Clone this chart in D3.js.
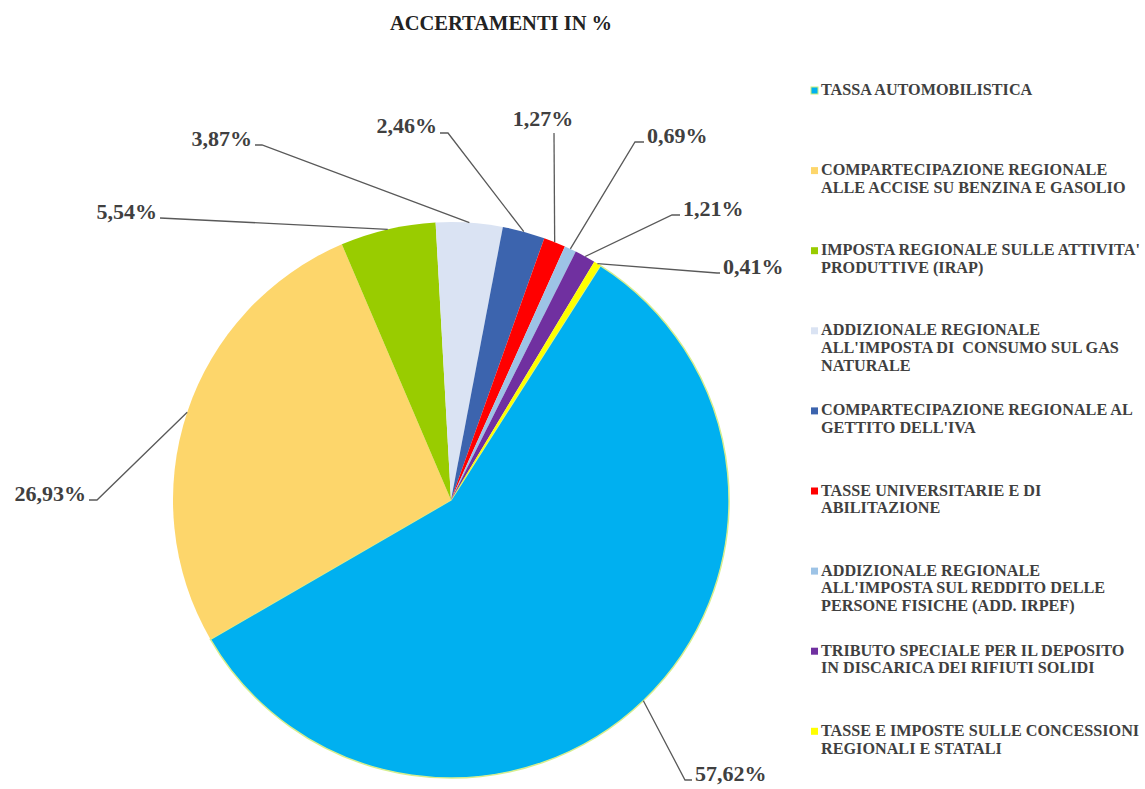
<!DOCTYPE html>
<html>
<head>
<meta charset="utf-8">
<script src="https://cdn.jsdelivr.net/npm/d3@7"></script>
<style>
  body { margin: 0; background: #fff; }
  svg { display: block; }
  text { font-family: "Liberation Serif", "DejaVu Serif", serif; font-weight: bold; fill: #404040; }
</style>
</head>
<body>
<div id="chart"></div>
<script>

// slice names, as wrapped in the legend
var categories = [
    "TASSA AUTOMOBILISTICA",
    "COMPARTECIPAZIONE REGIONALE\nALLE ACCISE SU BENZINA E GASOLIO",
    "IMPOSTA REGIONALE SULLE ATTIVITA'\nPRODUTTIVE (IRAP)",
    "ADDIZIONALE REGIONALE\nALL'IMPOSTA DI  CONSUMO SUL GAS\nNATURALE",
    "COMPARTECIPAZIONE REGIONALE AL\nGETTITO DELL'IVA",
    "TASSE UNIVERSITARIE E DI\nABILITAZIONE",
    "ADDIZIONALE REGIONALE\nALL'IMPOSTA SUL REDDITO DELLE\nPERSONE FISICHE (ADD. IRPEF)",
    "TRIBUTO SPECIALE PER IL DEPOSITO\nIN DISCARICA DEI RIFIUTI SOLIDI",
    "TASSE E IMPOSTE SULLE CONCESSIONI\nREGIONALI E STATALI"
];

// percentages
var values = [57.62, 26.93, 5.54, 3.87, 2.46, 1.27, 0.69, 1.21, 0.41];

var colors = ["#00b0f0", "#fdd66b", "#99cc00", "#dae3f3", "#3c64ae",
              "#ff0000", "#9dc3e6", "#7030a0", "#ffff00"];

var title = "ACCERTAMENTI IN %";

// leader line layout for each label: elbow point, end point, text position
var labelLayout = [
    { elbow: [685, 780], end: [692, 780], text: [695, 781], anchor: "start" },
    { elbow: [97, 500],  end: [89, 500],  text: [86, 501],  anchor: "end" },
    { elbow: [160, 218], end: [160, 218], text: [157, 219], anchor: "end" },
    { elbow: [262, 145], end: [255, 145], text: [252, 146], anchor: "end" },
    { elbow: [448, 133], end: [440, 133], text: [437, 133], anchor: "end" },
    { elbow: [554, 133], end: [554, 133], text: [543, 126], anchor: "middle" },
    { elbow: [635, 142], end: [644, 142], text: [647, 143], anchor: "start" },
    { elbow: [672, 215], end: [680, 215], text: [683, 216], anchor: "start" },
    { elbow: [717, 273], end: [720, 273], text: [723, 274], anchor: "start" }
];

var width = 1145;
var height = 789;

var center = { x: 451, y: 500 };
var radius = 278;
var startDeg = 32.5;

var itFormat = d3.formatLocale({ decimal: ",", thousands: ".", grouping: [3], currency: ["", "€"] }).format(".2f");

var svg = d3.select("#chart").append("svg")
    .attr("width", width)
    .attr("height", height);

svg.append("text")
    .attr("x", 501)
    .attr("y", 30)
    .attr("text-anchor", "middle")
    .style("font-size", "20.5px")
    .style("fill", "#222")
    .text(title);

var pie = d3.pie()
    .sort(null)
    .startAngle(startDeg * Math.PI / 180)
    .endAngle(startDeg * Math.PI / 180 + 2 * Math.PI);

var arcs = pie(values);

var arc = d3.arc().innerRadius(0).outerRadius(radius);

var g = svg.append("g")
    .attr("transform", "translate(" + center.x + "," + center.y + ")");

g.selectAll("path.slice")
    .data(arcs)
    .enter().append("path")
    .attr("class", "slice")
    .attr("d", arc)
    .attr("fill", function (d, i) { return colors[i]; })
    .attr("stroke", function (d, i) { return i === 0 ? "#d6ee8e" : "none"; })
    .attr("stroke-width", 1.5);

// leader lines from the arc midpoint out to each label
function edgePoint(d) {
    var a = (d.startAngle + d.endAngle) / 2;
    return [center.x + radius * Math.sin(a), center.y - radius * Math.cos(a)];
}

var line = d3.line();

svg.selectAll("path.leader")
    .data(arcs)
    .enter().append("path")
    .attr("class", "leader")
    .attr("d", function (d, i) {
        var l = labelLayout[i];
        return line([edgePoint(d), l.elbow, l.end]);
    })
    .attr("fill", "none")
    .attr("stroke", "#595959")
    .attr("stroke-width", 1.3);

svg.selectAll("text.pct")
    .data(arcs)
    .enter().append("text")
    .attr("class", "pct")
    .attr("x", function (d, i) { return labelLayout[i].text[0]; })
    .attr("y", function (d, i) { return labelLayout[i].text[1]; })
    .attr("text-anchor", function (d, i) { return labelLayout[i].anchor; })
    .style("font-size", "22px")
    .text(function (d) { return itFormat(d.data) + "%"; });

// legend
var legend = svg.append("g").attr("class", "legend");

var item = legend.selectAll("g.item")
    .data(categories)
    .enter().append("g")
    .attr("class", "item")
    .attr("transform", function (d, i) { return "translate(811," + (95 + i * 80.1) + ")"; });

item.append("rect")
    .attr("x", 0)
    .attr("y", -8)
    .attr("width", 7)
    .attr("height", 7)
    .attr("fill", function (d, i) { return colors[i]; })
    .attr("stroke", function (d, i) { return i === 0 ? "#c8f07a" : "none"; })
    .attr("stroke-width", 1);

item.append("text")
    .attr("x", 10)
    .attr("y", 0)
    .style("font-size", "16.2px")
    .selectAll("tspan")
    .data(function (d) { return d.split("\n"); })
    .enter().append("tspan")
    .attr("x", 10)
    .attr("dy", function (d, i) { return i === 0 ? 0 : 17.8; })
    .style("white-space", "pre")
    .text(function (d) { return d; });

</script>
</body>
</html>
